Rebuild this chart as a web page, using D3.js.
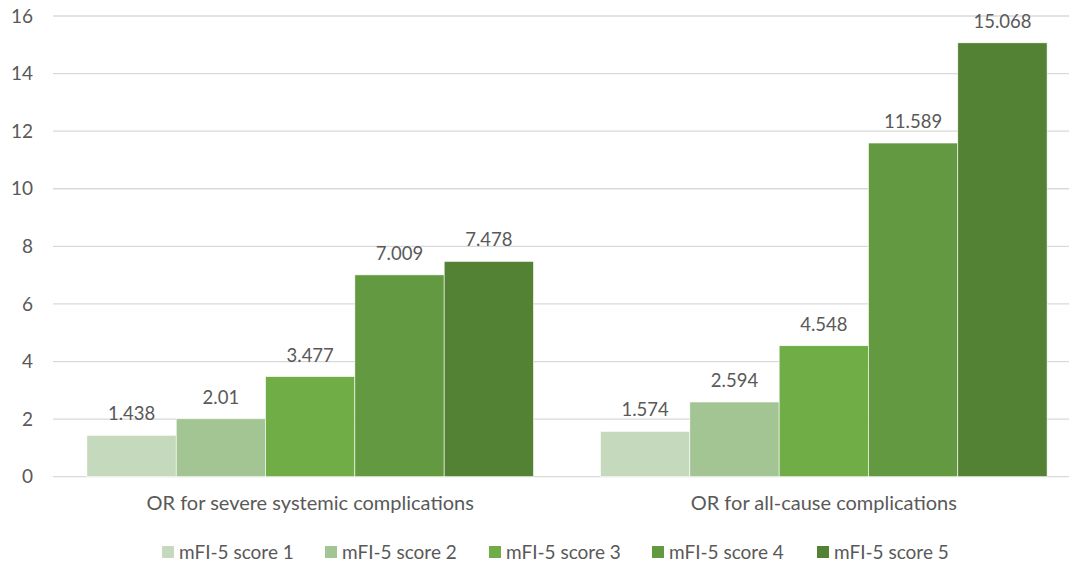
<!DOCTYPE html>
<html>
<head>
<meta charset="utf-8">
<script src="https://cdn.jsdelivr.net/npm/d3@7"></script>
<style>
  body { margin: 0; background: #fff; }
  text { font-family: Lato, "Open Sans", sans-serif; fill: #595959; }
</style>
</head>
<body>
<div id="chart"></div>
<script>
// data
const categories = ["OR for severe systemic complications", "OR for all-cause complications"]
const seriesNames = ["mFI-5 score 1", "mFI-5 score 2", "mFI-5 score 3", "mFI-5 score 4", "mFI-5 score 5"]
const score1 = [1.438, 1.574]
const score2 = [2.01, 2.594]
const score3 = [3.477, 4.548]
const score4 = [7.009, 11.589]
const score5 = [7.478, 15.068]
const yTicks = [0, 2, 4, 6, 8, 10, 12, 14, 16]

const colors = ["#c5d9bc", "#a3c493", "#70ad47", "#639a41", "#548235"]
const allSeries = [score1, score2, score3, score4, score5]

var width = 1069, height = 563
var plotLeft = 53, plotTop = 16, plotBottom = 476.7

var svg = d3.select("#chart")
    .append("svg")
    .attr("width", width)
    .attr("height", height)

var y = d3.scaleLinear()
    .domain([0, 16])
    .range([plotBottom, plotTop])

// outer band goes a bit past the right edge (chart was cropped)
var x0 = d3.scaleBand()
    .domain(categories)
    .range([plotLeft, 1081])
    .paddingInner(0.1305)
    .paddingOuter(0.066)

var x1 = d3.scaleBand()
    .domain(seriesNames)
    .range([0, x0.bandwidth()])

// gridlines
svg.append("g")
    .selectAll("line")
    .data(yTicks)
    .enter()
    .append("line")
    .attr("x1", plotLeft)
    .attr("x2", width)
    .attr("y1", d => y(d))
    .attr("y2", d => y(d))
    .style("stroke", "#d9d9d9")
    .style("stroke-width", 1.3)

// y axis labels
var yAxis = d3.axisLeft(y).tickValues(yTicks).tickSize(0).tickPadding(0)
svg.append("g")
    .attr("transform", "translate(33,0)")
    .call(yAxis)
    .call(g => g.select(".domain").remove())
    .selectAll("text")
    .style("font-size", "19px")
    .style("fill", "#595959")
    .style("font-family", "Lato, sans-serif")

// bars
var groups = svg.append("g")
    .selectAll("g")
    .data(categories)
    .enter()
    .append("g")
    .attr("transform", d => "translate(" + x0(d) + ",0)")

groups.selectAll("rect")
    .data((d, i) => seriesNames.map((s, j) => ({series: s, value: allSeries[j][i], idx: j})))
    .enter()
    .append("rect")
    .attr("x", d => x1(d.series))
    .attr("width", x1.bandwidth())
    .attr("y", d => y(d.value))
    .attr("height", d => y(0) - y(d.value))
    .style("fill", d => colors[d.idx])
    .style("stroke", "#ffffff")
    .style("stroke-width", 0.6)

groups.selectAll("text.val")
    .data((d, i) => seriesNames.map((s, j) => ({series: s, value: allSeries[j][i]})))
    .enter()
    .append("text")
    .attr("class", "val")
    .attr("x", d => x1(d.series) + x1.bandwidth() / 2)
    .attr("y", d => y(d.value) - 15)
    .attr("text-anchor", "middle")
    .style("font-size", "18.5px")
    .text(d => d.value)

// category labels
svg.append("g")
    .selectAll("text")
    .data(categories)
    .enter()
    .append("text")
    .attr("x", d => x0(d) + x0.bandwidth() / 2)
    .attr("y", 510)
    .attr("text-anchor", "middle")
    .style("font-size", "20px")
    .text(d => d)

// legend
var legend = svg.append("g")
var legendX = [162, 325, 489, 652, 817]
seriesNames.forEach(function (name, i) {
    legend.append("rect")
        .attr("x", legendX[i])
        .attr("y", 546)
        .attr("width", 12)
        .attr("height", 12)
        .style("fill", colors[i])
    legend.append("text")
        .attr("x", legendX[i] + 17)
        .attr("y", 559)
        .style("font-size", "19px")
        .text(name)
})
</script>
</body>
</html>
